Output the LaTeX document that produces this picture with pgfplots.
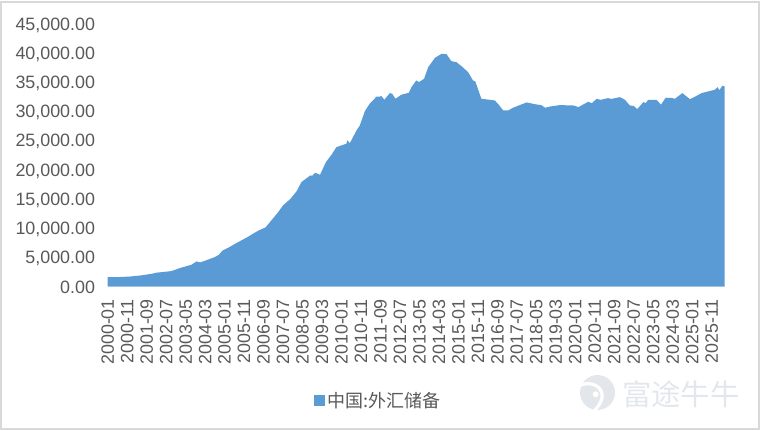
\documentclass[border=0pt]{standalone}
\usepackage{pgfplots}
\pgfplotsset{compat=1.18}
\usepackage{fontspec}
\setmainfont{Liberation Sans}
\newfontfamily\cjk{Noto Sans CJK SC}
\definecolor{areac}{HTML}{5B9BD5}
\definecolor{txtc}{HTML}{595959}
\definecolor{basec}{HTML}{C6D6E6}
\definecolor{framec}{HTML}{D9D9D9}
\definecolor{wmarkc}{HTML}{E3E7EB}
\pgfplotstableread{
m v
0 1590
6 1610
11 1680
17 1880
23 2180
25 2350
32.7 2620
37 3140
43 3710
45.6 4280
47.4 4110
50 4397
55 5020
57 5400
59 6160
62 6650
66 7410
71.2 8340
77.5 9590
81 10100
84 11300
87 12500
90 13870
94 15060
97 16300
99.4 17850
102 18500
104 19000
105 18950
106.5 19460
109 19120
112 21280
115 22600
117.4 23850
122.5 24430
123 25000
124.3 24530
127.7 26700
129.4 27560
132 30000
134.5 31300
136 31800
138 32500
139.6 32500
140.5 32600
142 31960
144.8 33100
146 33000
147.7 32130
150.7 32820
154.6 33160
155.9 34120
158.4 35270
159.8 34980
162.4 35560
164.5 37540
168 39150
171.4 39830
173.9 39770
176.4 38570
179 38400
181.6 37720
185 36690
187.5 35270
188.7 35100
191.8 32130
195 32000
198.7 31840
200.5 31200
203 30130
205.6 30130
208 30590
215 31500
220 31160
222.5 31050
224.6 30590
227 30800
232 31040
239 30990
241.6 30700
246.7 31620
248.5 31380
251 32130
253 31950
256.8 32240
258.5 32100
262.9 32410
265.5 31960
268 30990
270 30900
271.8 30360
275 31560
276.2 31400
277.4 31960
281.7 31960
284 31110
286.4 32310
290 32250
291 32100
295 33100
298.8 32070
301 32400
304.8 33100
311.6 33670
313 34120
314 33620
315.5 34360
316.7 34240
}\reserves
\begin{document}
\begin{tikzpicture}[x=0.75pt,y=0.75pt]
\path[use as bounding box] (0,0) rectangle (760,430);
\draw[framec,line width=1.5pt] (1,1) rectangle (758.7,428.5);
\begin{axis}[
  at={(80.775pt,107.7pt)},anchor=south west,
  scale only axis,
  width=462.75pt,height=197.1pt,
  xmin=0,xmax=316.7,ymin=0,ymax=45000,
  axis x line=bottom,axis y line=left,
  x axis line style={draw=basec,line width=1.2pt,-},
  y axis line style={draw=none,-},
  major tick length=0pt,
  xtick={0,10,...,310},
  xticklabels={2000-01,2000-11,2001-09,2002-07,2003-05,2004-03,2005-01,2005-11,2006-09,2007-07,2008-05,2009-03,2010-01,2010-11,2011-09,2012-07,2013-05,2014-03,2015-01,2015-11,2016-09,2017-07,2018-05,2019-03,2020-01,2020-11,2021-09,2022-07,2023-05,2024-03,2025-01,2025-11},
  ytick={0,5000,...,45000},
  scaled y ticks=false,
  tick label style={font=\fontsize{13.4pt}{15pt}\selectfont,text=txtc},
  x tick label style={rotate=90,anchor=east,xshift=-6pt},
  y tick label style={anchor=east,xshift=-6pt,yshift=-1pt},
  /pgf/number format/fixed,
  /pgf/number format/fixed zerofill,
  /pgf/number format/precision=2,
  /pgf/number format/1000 sep={,},
  /pgf/number format/assume math mode=true,
  legend style={at={(axis description cs:0.3335,-0.435)},anchor=west,draw=none,fill=none,
    font=\cjk\fontsize{13.5pt}{15pt}\selectfont,text=txtc,inner sep=0pt,
    /tikz/every even column/.style={column sep=6pt}},
  legend image code/.code={\fill[areac] (0pt,-4.3pt) rectangle (8.6pt,4.3pt);},
  clip=false,
]
\addplot[fill=areac,draw=none] table[x=m,y=v] {\reserves} \closedcycle;
\addlegendentry{中国:外汇储备}
\end{axis}
% watermark
\node[anchor=west,text=wmarkc,inner sep=0pt,font=\cjk\fontsize{22pt}{24pt}\selectfont] at (622,36) {富途牛牛};
\fill[wmarkc] (597.5,37.5) circle[radius=17.5];
\draw[white,line width=2.4pt,line cap=round] (579,44) .. controls (590,50) and (604,44) .. (602,32) .. controls (601,26) and (596,22) .. (594,18);
\fill[white] (595.7,35.7) circle[radius=3];
\end{tikzpicture}
\end{document}
